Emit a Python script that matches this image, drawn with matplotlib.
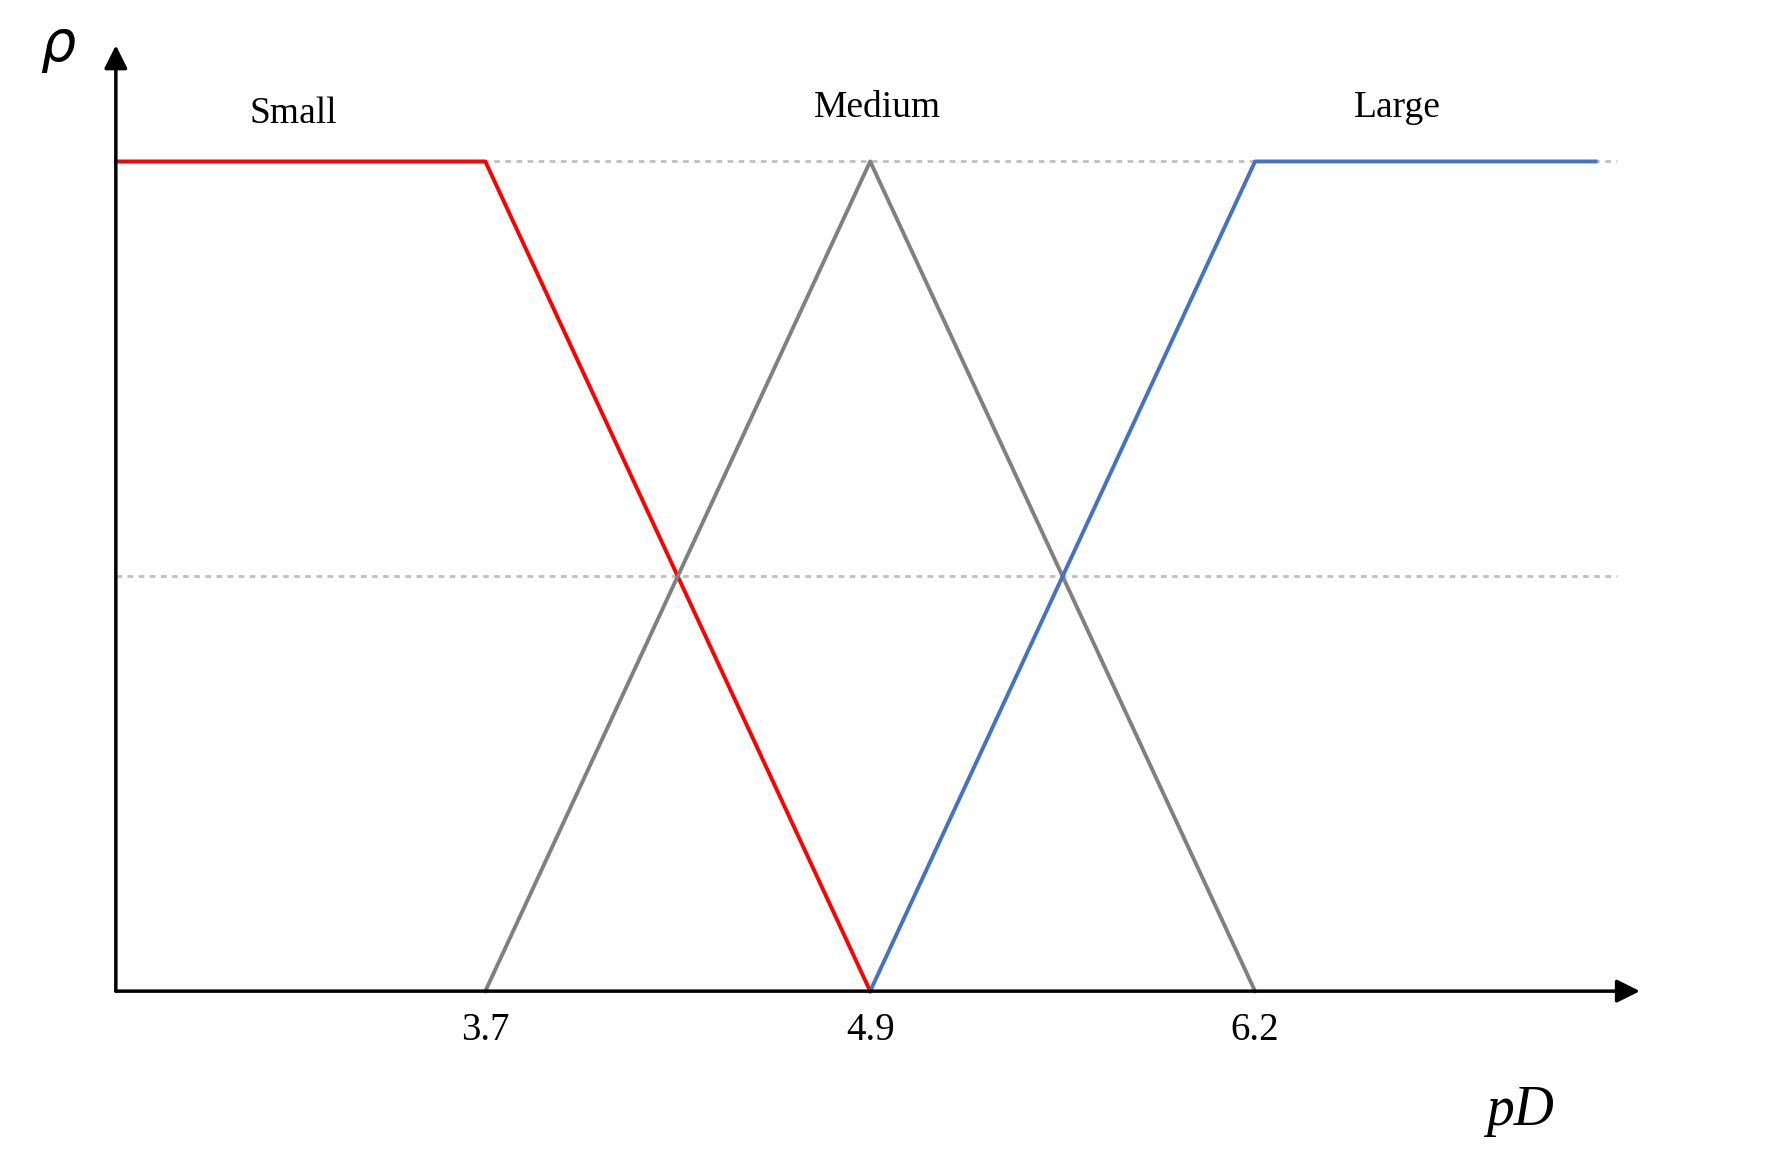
import matplotlib
matplotlib.use("Agg")
import matplotlib.pyplot as plt

# positions on the pD axis (category-like spacing as drawn)
tick_pos = [1, 2, 3]
tick_labels = ["3.7", "4.9", "6.2"]
x_start, x_end = 0.04, 3.885

small_x = [x_start, 1, 2]
small_y = [1, 1, 0]
medium_x = [1, 2, 3]
medium_y = [0, 1, 0]
large_x = [2, 3, x_end]
large_y = [0, 1, 1]
labels = ["Small", "Medium", "Large"]
label_x = [0.50, 2.02, 3.37]
label_y = [1.058, 1.065, 1.065]

plt.rcParams['font.family'] = ['Liberation Serif', 'DejaVu Serif']
fig = plt.figure(figsize=(17.75, 11.74), dpi=100)
ax = fig.add_axes([0, 0, 1, 1])
ax.set_xlim(-0.261, 4.351)
ax.set_ylim(-0.2204, 1.1946)
ax.axis('off')

for yv in [1, 0.5]:
    ax.plot([x_start, 3.94], [yv, yv], ls=(0, (2, 2)), color='#bfbfbf', lw=2)

ax.plot(small_x, small_y, color='#ff0000', lw=2.8)
ax.plot(medium_x, medium_y, color='#808080', lw=2.8)
ax.plot(large_x, large_y, color='#4472c4', lw=2.8)

# axes arrows
ax.annotate('', xy=(4.0, 0), xytext=(x_start, 0),
            arrowprops=dict(arrowstyle='-|>', color='black', lw=2.5, mutation_scale=35, shrinkA=0, shrinkB=0))
ax.annotate('', xy=(x_start, 1.14), xytext=(x_start, 0),
            arrowprops=dict(arrowstyle='-|>', color='black', lw=2.5, mutation_scale=35, shrinkA=0, shrinkB=0))

for p, t in zip(tick_pos, tick_labels):
    ax.text(p, -0.025, t, ha='center', va='top', fontsize=28)
for lx, ly, t in zip(label_x, label_y, labels):
    ax.text(lx, ly, t, ha='center', va='center', fontsize=27)

ax.text(-0.11, 1.135, r'$\rho$', fontsize=40, ha='center', va='center')
ax.text(3.69, -0.145, 'pD', fontsize=40, ha='center', va='center', style='italic')

fig.savefig('out.png', dpi=100)
